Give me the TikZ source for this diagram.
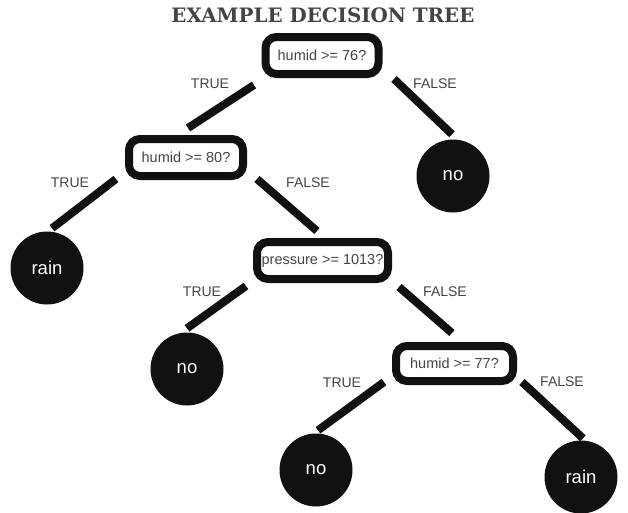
\documentclass[tikz,border=0pt]{standalone}
\usepackage{fontspec}
\setmainfont{Liberation Sans}
\newfontfamily\titlefont{DejaVu Serif}
\definecolor{txtgray}{HTML}{444444}
\definecolor{ink}{HTML}{111111}
\begin{document}
\begin{tikzpicture}[x=1pt,y=-1pt,
  qbox/.style={draw=ink, line width=8pt, rounded corners=11pt, fill=white,
    minimum height=37pt, inner sep=0pt, text=txtgray,
    font=\fontsize{14.5}{16}\selectfont},
  leaf/.style={circle, fill=ink, minimum size=73pt, inner sep=0pt, text=white,
    font=\fontsize{18.5}{20}\selectfont},
  conn/.style={draw=ink, line width=8pt},
  lbl/.style={text=txtgray, font=\fontsize{14}{16}\selectfont, inner sep=0pt}]
\useasboundingbox (0,0) rectangle (628,512);
\node[text=txtgray, inner sep=0pt] (title) at (323,15)
  {\resizebox{303pt}{!}{\titlefont\bfseries EXAMPLE DECISION TREE}};
% question boxes
\node[qbox, minimum width=113pt] (root) at (322,55.5) {humid >= 76?};
\node[qbox, minimum width=114pt] (h80) at (186,157.5) {humid >= 80?};
\node[qbox, minimum width=131pt] (pres) at (322.5,260.5) {pressure >= 1013?};
\node[qbox, minimum width=117pt, minimum height=35pt] (h77) at (454.5,363.5) {humid >= 77?};
% leaves
\node[leaf] (no1) at (453,176) {no};
\node[leaf] (rain1) at (47,268) {rain};
\node[leaf] (no2) at (187,369) {no};
\node[leaf] (no3) at (316,470) {no};
\node[leaf] (rain2) at (581,477) {rain};
% connectors
\draw[conn] ([shift={(-7.5,7)}]root.south west) -- ([shift={(2,-7)}]h80.north);
\draw[conn] ([shift={(11.5,1)}]root.south east) -- ([shift={(-1,-5)}]no1.north);
\draw[conn] ([shift={(-9,-1)}]h80.south west) -- ([shift={(5,-3)}]rain1.north);
\draw[conn] ([shift={(10,-1)}]h80.south east) -- ([shift={(-5.5,-7)}]pres.north);
\draw[conn] ([shift={(-7,3)}]pres.south west) -- ([shift={(0,-4)}]no2.north);
\draw[conn] ([shift={(7,4)}]pres.south east) -- ([shift={(-2.5,-9)}]h77.north);
\draw[conn] ([shift={(-8,-3)}]h77.south west) -- ([shift={(2,-3)}]no3.north);
\draw[conn] ([shift={(5,-3)}]h77.south east) -- ([shift={(2,-2)}]rain2.north);
% labels
\node[lbl] (t1) at (210,84) {TRUE};
\node[lbl] (f1) at (435,84) {FALSE};
\node[lbl] (t2) at (70,183) {TRUE};
\node[lbl] (f2) at (308,183) {FALSE};
\node[lbl] (t3) at (202,292) {TRUE};
\node[lbl] (f3) at (445,292) {FALSE};
\node[lbl] (t4) at (342,383) {TRUE};
\node[lbl] (f4) at (562,382) {FALSE};
\end{tikzpicture}
\end{document}
